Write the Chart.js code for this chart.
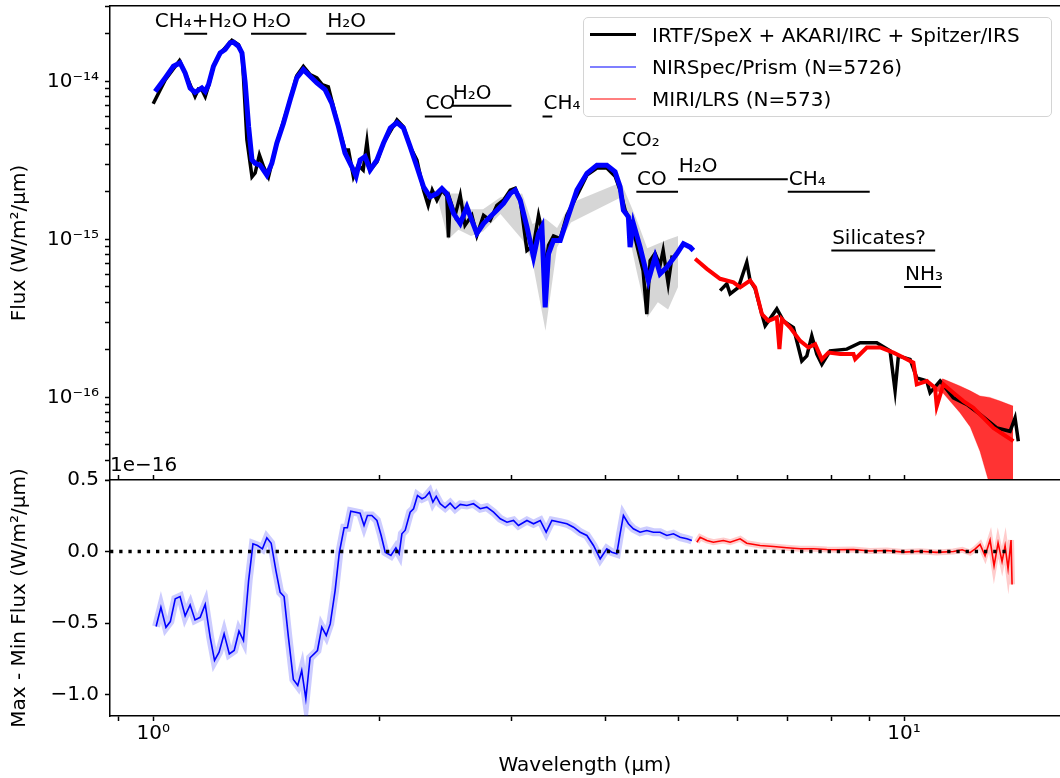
<!DOCTYPE html>
<html>
<head>
<meta charset="utf-8">
<script src="https://cdn.jsdelivr.net/npm/chart.js@4.4.1/dist/chart.umd.min.js"></script>
<style>
    html, body { margin: 0; padding: 0; background: #fff; overflow: hidden; }
    #wrap { position: relative; width: 1060px; height: 778px; }
    #fluxChart { position: absolute; left: 0; top: 0; }
    #diffChart { position: absolute; left: 0; top: 440px; }
    #legend {
        position: absolute; left: 583px; top: 17px; width: 469px; height: 100px;
        box-sizing: border-box; border: 1.5px solid #d4d4d4; border-radius: 5px;
        background: rgba(255, 255, 255, 0.8); z-index: 5;
        font-family: 'DejaVu Sans', sans-serif; font-size: 20px; color: #000;
    }
    .legend-row { position: absolute; left: 0; height: 32px; line-height: 32px; white-space: nowrap; }
    .legend-line { position: absolute; left: 6px; top: 15px; width: 46px; }
    .legend-text { position: absolute; left: 68px; top: 0; }
</style>
</head>
<body>
<div id="wrap">
    <canvas id="fluxChart" width="1060" height="480"></canvas>
    <canvas id="diffChart" width="1060" height="338"></canvas>
    <div id="legend"></div>
</div>
<script>
// axis ranges and ticks
const xMin = 0.876, xMax = 16.13;
const fluxMin = 3e-17, fluxMax = 3e-14;
const diffMin = -1.15, diffMax = 0.5;

const xMajorTicks = [1, 10];
const xMajorLabels = ['10⁰', '10¹'];
const xMinorTicks = [0.9, 2, 3, 4, 5, 6, 7, 8, 9];
const fluxMajorTicks = [1e-16, 1e-15, 1e-14];
const fluxMajorLabels = ['10⁻¹⁶', '10⁻¹⁵', '10⁻¹⁴'];
const fluxMinorMantissas = [2, 3, 4, 5, 6, 7, 8, 9];
const diffTicks = [-1.0, -0.5, 0.0, 0.5];
const diffLabels = ['−1.0', '−0.5', '0.0', '0.5'];

// IRTF/SpeX + AKARI/IRC + Spitzer/IRS (gap between AKARI and Spitzer)
const blackWave = [
    1.000, 1.038, 1.084, 1.103, 1.137, 1.149, 1.161, 1.173, 1.185, 1.203,
    1.228, 1.273, 1.299, 1.314, 1.333, 1.354, 1.367, 1.385, 1.403, 1.424,
    1.461, 1.522, 1.553, 1.585, 1.618, 1.652, 1.679, 1.711, 1.765, 1.801,
    1.820, 1.848, 1.875, 1.904, 1.926, 1.945, 1.986, 2.026, 2.112, 2.155,
    2.199, 2.245, 2.291, 2.324, 2.353, 2.387, 2.424, 2.461, 2.473, 2.486,
    2.524, 2.564, 2.602, 2.657, 2.698, 2.754, 2.811, 2.869, 2.928, 2.989,
    3.035, 3.082, 3.146, 3.210, 3.260, 3.294, 3.327, 3.361, 3.413, 3.484,
    3.556, 3.667, 3.781, 3.899, 4.019, 4.122, 4.186, 4.251, 4.343, 4.424,
    4.492, 4.543, 4.590, 4.660, 4.732, 4.777, 4.851, 4.911, 5.300, 5.689,
    5.806, 5.866, 6.017, 6.173, 6.236, 6.333, 6.465, 6.531, 6.769, 6.908,
    7.123, 7.308, 7.421, 7.535, 7.652, 7.771, 7.971, 8.390, 8.740, 9.197,
    9.579, 9.728, 9.827, 10.186, 10.397, 10.720, 10.830, 11.168, 11.631, 12.118,
    12.624, 13.287, 13.840, 14.053, 14.195
];
const blackFlux = [
    7.21e-15, 1.025e-14, 1.354e-14, 1.131e-14, 8.03e-15, 8.95e-15, 8.86e-15, 8.03e-15, 9.39e-15, 1.246e-14,
    1.50e-14, 1.822e-14, 1.711e-14, 1.478e-14, 4.26e-15, 2.49e-15, 2.63e-15, 3.42e-15, 2.88e-15, 2.49e-15,
    4.06e-15, 7.65e-15, 1.087e-14, 1.246e-14, 1.103e-14, 1.051e-14, 9.53e-15, 9.25e-15, 5.17e-15, 3.68e-15,
    3.68e-15, 2.49e-15, 2.95e-15, 2.75e-15, 4.16e-15, 2.75e-15, 3.09e-15, 4.06e-15, 5.71e-15, 5.15e-15,
    3.86e-15, 3.18e-15, 2.05e-15, 1.64e-15, 2.05e-15, 1.77e-15, 2.05e-15, 1.88e-15, 1.03e-15, 1.77e-15,
    1.42e-15, 1.90e-15, 1.23e-15, 1.42e-15, 1.06e-15, 1.42e-15, 1.32e-15, 1.64e-15, 1.77e-15, 2.05e-15,
    2.11e-15, 1.77e-15, 8.51e-16, 9.16e-16, 1.42e-15, 1.14e-15, 6.35e-16, 9.16e-16, 1.05e-15, 1.01e-15,
    1.42e-15, 1.90e-15, 2.55e-15, 2.83e-15, 2.83e-15, 2.51e-15, 2.05e-15, 1.53e-15, 1.23e-15, 8.51e-16,
    6.35e-16, 3.37e-16, 7.35e-16, 8.15e-16, 6.84e-16, 8.51e-16, 5.25e-16, 7.91e-16, null, 4.74e-16,
    5.23e-16, 4.52e-16, 4.97e-16, 7.17e-16, 5.49e-16, 4.88e-16, 3.37e-16, 2.84e-16, 3.63e-16, 3.05e-16,
    2.77e-16, 1.70e-16, 1.83e-16, 2.45e-16, 1.88e-16, 1.62e-16, 1.97e-16, 2.02e-16, 2.22e-16, 2.22e-16,
    1.97e-16, 1.10e-16, 1.83e-16, 1.74e-16, 1.33e-16, 1.27e-16, 1.07e-16, 1.27e-16, 9.94e-17, 9.03e-17,
    7.80e-17, 6.41e-17, 6.10e-17, 7.42e-17, 5.28e-17
];

// NIRSpec/Prism
const blueWave = [
    1.006, 1.038, 1.064, 1.086, 1.103, 1.120, 1.137, 1.161, 1.173, 1.185,
    1.203, 1.228, 1.247, 1.266, 1.279, 1.299, 1.313, 1.326, 1.340, 1.354,
    1.367, 1.388, 1.417, 1.439, 1.461, 1.491, 1.522, 1.553, 1.585, 1.618,
    1.652, 1.694, 1.729, 1.765, 1.801, 1.839, 1.863, 1.886, 1.915, 1.945,
    1.986, 2.026, 2.069, 2.112, 2.155, 2.199, 2.245, 2.291, 2.338, 2.387,
    2.424, 2.461, 2.512, 2.564, 2.617, 2.657, 2.698, 2.754, 2.811, 2.869,
    2.928, 2.989, 3.035, 3.082, 3.146, 3.210, 3.260, 3.294, 3.327, 3.361,
    3.413, 3.484, 3.556, 3.667, 3.781, 3.899, 4.019, 4.122, 4.186, 4.229,
    4.294, 4.316, 4.360, 4.451, 4.565, 4.660, 4.732, 4.831, 4.981, 5.083,
    5.189, 5.241
];
const blueFlux = [
    8.64e-15, 1.056e-14, 1.246e-14, 1.309e-14, 1.131e-14, 9.08e-15, 8.51e-15, 9.08e-15, 8.64e-15, 9.53e-15,
    1.246e-14, 1.515e-14, 1.591e-14, 1.754e-14, 1.770e-14, 1.669e-14, 1.515e-14, 9.77e-15, 5.17e-15, 3.18e-15,
    3.03e-15, 2.95e-15, 2.55e-15, 3.03e-15, 4.06e-15, 5.44e-15, 7.65e-15, 1.051e-14, 1.187e-14, 1.076e-14,
    9.77e-15, 8.86e-15, 7.29e-15, 5.17e-15, 3.51e-15, 2.88e-15, 2.51e-15, 3.18e-15, 3.34e-15, 2.75e-15,
    3.18e-15, 4.06e-15, 5.06e-15, 5.49e-15, 5.06e-15, 3.86e-15, 2.88e-15, 2.15e-15, 1.86e-15, 1.95e-15,
    2.10e-15, 1.95e-15, 1.46e-15, 1.26e-15, 1.60e-15, 1.32e-15, 1.09e-15, 1.26e-15, 1.39e-15, 1.53e-15,
    1.69e-15, 1.95e-15, 2.05e-15, 1.77e-15, 1.20e-15, 7.72e-16, 1.09e-15, 1.20e-15, 3.71e-16, 8.11e-16,
    9.85e-16, 9.85e-16, 1.32e-15, 2.05e-15, 2.62e-15, 2.95e-15, 2.95e-15, 2.68e-15, 2.15e-15, 1.53e-15,
    1.39e-15, 8.93e-16, 1.26e-15, 8.93e-16, 5.49e-16, 7.72e-16, 6.05e-16, 6.67e-16, 8.11e-16, 9.39e-16,
    8.93e-16, 8.51e-16
];

// MIRI/LRS
const redWave = [
    5.269, 5.462, 5.689, 5.926, 6.049, 6.236, 6.333, 6.465, 6.597, 6.769,
    6.823, 6.874, 7.051, 7.271, 7.458, 7.613, 7.771, 7.930, 8.220, 8.562,
    8.607, 8.920, 9.292, 9.679, 9.979, 10.289, 10.397, 10.720, 10.996, 11.054,
    11.280, 11.631, 11.993, 12.367, 12.752, 13.150, 13.559, 13.982
];
const redFlux = [
    7.54e-16, 6.51e-16, 5.63e-16, 5.35e-16, 4.97e-16, 5.49e-16, 4.97e-16, 3.37e-16, 3.05e-16, 3.21e-16,
    2.02e-16, 3.13e-16, 2.77e-16, 2.28e-16, 2.07e-16, 2.17e-16, 1.74e-16, 1.92e-16, 1.88e-16, 1.88e-16,
    1.75e-16, 2.07e-16, 2.07e-16, 1.92e-16, 1.79e-16, 1.66e-16, 1.21e-16, 1.27e-16, 1.15e-16, 8.81e-17,
    1.21e-16, 1.07e-16, 9.48e-17, 8.59e-17, 7.42e-17, 6.41e-17, 5.82e-17, 5.28e-17
];

// spread of the MIRI spectra at long wavelengths
const redBandWave = [11.00, 11.26, 11.87, 12.25, 12.62, 13.00, 13.42, 13.97];
const redBandHigh = [1.20e-16, 1.31e-16, 1.18e-16, 1.10e-16, 1.02e-16, 1.00e-16, 9.48e-17, 8.81e-17];
const redBandLow = [1.10e-16, 1.07e-16, 8.0e-17, 6.5e-17, 4.56e-17, 2.8e-17, 2.5e-17, 2.5e-17];

// grey spread of the reference spectrum
const grayWave = [2.40, 2.47, 2.55, 2.65, 2.75, 2.90, 3.10, 3.20, 3.33, 3.45, 3.60, 4.20, 4.40, 4.55, 4.70, 4.85, 5.00];
const grayHigh = [2.10e-15, 1.95e-15, 1.95e-15, 1.55e-15, 1.55e-15, 1.85e-15, 1.95e-15, 1.25e-15, 1.35e-15,
    1.18e-15, 1.70e-15, 2.30e-15, 1.35e-15, 8.8e-16, 9.4e-16, 1.0e-15, 1.05e-15];
const grayLow = [1.70e-15, 1.0e-15, 1.15e-15, 1.05e-15, 1.12e-15, 1.45e-15, 1.0e-15, 7.2e-16, 2.64e-16,
    8.9e-16, 1.28e-15, 1.85e-15, 6.4e-16, 3.2e-16, 4.0e-16, 3.6e-16, 5.0e-16];

// absorption features
const featLabel = ['CH₄+H₂O', 'H₂O', 'H₂O', 'CO', 'H₂O', 'CH₄', 'CO₂', 'CO', 'H₂O', 'CH₄', 'Silicates?', 'NH₃'];
const featStart = [1.10, 1.35, 1.70, 2.30, 2.50, 3.30, 4.20, 4.40, 5.00, 7.00, 8.00, 10.0];
const featEnd = [1.18, 1.60, 2.10, 2.50, 3.00, 3.40, 4.40, 5.00, 7.00, 9.00, 11.0, 11.2];
const featFlux = [2.0e-14, 2.0e-14, 2.0e-14, 6.0e-15, 7.0e-15, 6.0e-15, 3.5e-15, 2.0e-15, 2.4e-15, 2.0e-15, 8.5e-16, 5.0e-16];
const featTextX = [1.005, 1.355, 1.705, 2.305, 2.505, 3.31, 4.21, 4.41, 5.01, 7.02, 8.02, 10.03];

// max - min difference (units of 1e-16)
const diffBlueWave = [
    1.009, 1.024, 1.040, 1.054, 1.070, 1.086, 1.103, 1.120, 1.137, 1.155,
    1.173, 1.191, 1.207, 1.224, 1.243, 1.263, 1.282, 1.301, 1.319, 1.340,
    1.358, 1.377, 1.398, 1.417, 1.436, 1.457, 1.476, 1.494, 1.514, 1.537,
    1.558, 1.577, 1.597, 1.618, 1.655, 1.677, 1.700, 1.721, 1.747, 1.770,
    1.796, 1.814, 1.833, 1.886, 1.909, 1.929, 1.955, 1.986, 2.012, 2.037,
    2.073, 2.105, 2.126, 2.144, 2.166, 2.199, 2.222, 2.249, 2.280, 2.303,
    2.333, 2.358, 2.382, 2.411, 2.448, 2.486, 2.524, 2.564, 2.617, 2.670,
    2.726, 2.782, 2.840, 2.899, 2.959, 3.019, 3.065, 3.146, 3.210, 3.277,
    3.337, 3.396, 3.484, 3.556, 3.629, 3.704, 3.781, 3.858, 3.938, 4.019,
    4.081, 4.144, 4.186, 4.229, 4.294, 4.360, 4.451, 4.543, 4.636, 4.732,
    4.831, 4.930, 5.032, 5.137, 5.216
];
const diffBlueVal = [
    -0.524, -0.39, -0.53, -0.49, -0.33, -0.315, -0.45, -0.373, -0.478, -0.46,
    -0.37, -0.60, -0.762, -0.704, -0.576, -0.716, -0.692, -0.557, -0.622, -0.203,
    0.054, 0.042, 0.019, 0.096, 0.058, -0.133, -0.285, -0.315, -0.60, -0.895,
    -0.937, -0.832, -1.03, -0.743, -0.692, -0.529, -0.587, -0.506, -0.273, -0.005,
    0.166, 0.166, 0.282, 0.268, 0.182, 0.252, 0.252, 0.217, 0.112, -0.005,
    -0.028, 0.026, -0.016, 0.124, 0.149, 0.275, 0.299, 0.392, 0.369, 0.38,
    0.415, 0.345, 0.385, 0.334, 0.306, 0.338, 0.299, 0.329, 0.322, 0.334,
    0.299, 0.31, 0.275, 0.229, 0.205, 0.217, 0.182, 0.217, 0.194, 0.217,
    0.135, 0.217, 0.205, 0.194, 0.17, 0.135, 0.112, 0.042, -0.051, 0.019,
    -0.005, -0.016, 0.124, 0.252, 0.194, 0.159, 0.135, 0.147, 0.135, 0.135,
    0.112, 0.124, 0.10, 0.089, 0.077
];
const diffRedWave = [
    5.297, 5.350, 5.462, 5.572, 5.746, 5.866, 6.049, 6.173, 6.431, 6.699,
    6.979, 7.271, 7.573, 7.889, 8.137, 8.562, 9.010, 9.484, 9.980, 10.503,
    11.05, 11.631, 11.95, 12.242, 12.45, 12.624, 12.819, 13.017, 13.177, 13.340,
    13.504, 13.630, 13.755, 13.882, 13.925
];
const diffRedVal = [
    0.065, 0.10, 0.077, 0.065, 0.077, 0.065, 0.089, 0.058, 0.042, 0.035,
    0.026, 0.019, 0.019, 0.014, 0.012, 0.014, 0.004, 0.007, -0.004, 0.002,
    -0.006, 0.0, 0.012, -0.008, 0.02, 0.05, -0.03, 0.08, -0.10, 0.06,
    -0.07, 0.04, -0.12, 0.08, -0.23
];
const zeroLineWave = [0.876, 13.85];
const zeroLineVal = [0, 0];

Chart.defaults.font.family = "'DejaVu Sans', sans-serif";
Chart.defaults.font.size = 20;
Chart.defaults.color = '#000';

function pts(xs, ys) {
    return xs.map((x, i) => ({ x: x, y: ys[i] }));
}

function featureSegments() {
    const out = [];
    featStart.forEach((s, i) => {
        out.push({ x: s, y: featFlux[i] }, { x: featEnd[i], y: featFlux[i] }, { x: featEnd[i], y: null });
    });
    return out;
}

function setTicks(scale, values) {
    scale.ticks = values
        .filter(v => v >= scale.min * 0.999 && v <= scale.max * 1.001)
        .sort((a, b) => a - b)
        .map(v => ({ value: v }));
}

// fixed axis box, no extra room reserved for the end labels
function fixWidth(scale) {
    scale.width = 110;
    scale.paddingTop = 0;
    scale.paddingBottom = 0;
}

const fluxMinorTicks = [];
[1e-17, 1e-16, 1e-15, 1e-14].forEach(d => fluxMinorMantissas.forEach(m => fluxMinorTicks.push(m * d)));

const axisLine = { color: '#000', width: 1.5 };

function xAxis(position, withLabels) {
    return {
        type: 'logarithmic',
        position: position,
        min: xMin,
        max: xMax,
        afterBuildTicks: s => setTicks(s, xMajorTicks.concat(xMinorTicks)),
        grid: { drawOnChartArea: false, tickLength: 5, tickColor: '#000', tickWidth: 1.5 },
        border: axisLine,
        ticks: {
            display: withLabels,
            autoSkip: false,
            maxRotation: 0,
            padding: 1,
            callback: function (value) {
                const i = xMajorTicks.indexOf(value);
                return i >= 0 ? xMajorLabels[i] : '';
            }
        }
    };
}

// molecule names above the feature bars
const featureLabelPlugin = {
    id: 'featureLabels',
    afterDatasetsDraw(chart) {
        const { ctx, scales } = chart;
        ctx.save();
        ctx.font = "20px 'DejaVu Sans'";
        ctx.fillStyle = '#000';
        ctx.textAlign = 'left';
        ctx.textBaseline = 'alphabetic';
        featLabel.forEach((txt, i) => {
            ctx.fillText(txt, scales.x.getPixelForValue(featTextX[i]), scales.y.getPixelForValue(featFlux[i]) - 7);
        });
        ctx.restore();
    }
};

const fluxChart = new Chart(document.getElementById('fluxChart'), {
    type: 'line',
    data: {
        datasets: [
            {
                data: featureSegments(),
                borderColor: '#000', borderWidth: 2, spanGaps: false, order: 0
            },
            {
                label: 'NIRSpec/Prism (N=5726)', legendColor: 'rgba(0,0,255,0.5)', legendWidth: 2.5,
                data: pts(blueWave, blueFlux),
                borderColor: '#0000ff', borderWidth: 5, order: 1
            },
            {
                label: 'MIRI/LRS (N=573)', legendColor: 'rgba(255,0,0,0.5)', legendWidth: 2.5,
                data: pts(redWave, redFlux),
                borderColor: '#ff0000', borderWidth: 4, order: 2
            },
            {
                label: 'IRTF/SpeX + AKARI/IRC + Spitzer/IRS', legendColor: '#000', legendWidth: 3.5,
                data: pts(blackWave, blackFlux),
                borderColor: '#000', borderWidth: 3.5, spanGaps: false, order: 3
            },
            {
                data: pts(redBandWave, redBandHigh),
                borderColor: 'rgba(255,0,0,0.3)', borderWidth: 1,
                backgroundColor: 'rgba(255,0,0,0.8)', fill: '+1', order: 4
            },
            {
                data: pts(redBandWave, redBandLow),
                borderColor: 'rgba(255,0,0,0.3)', borderWidth: 1, fill: false, order: 5
            },
            {
                data: pts(grayWave, grayHigh),
                borderWidth: 0, backgroundColor: 'rgba(0,0,0,0.16)', fill: '+1', order: 6
            },
            {
                data: pts(grayWave, grayLow),
                borderWidth: 0, fill: false, order: 7
            }
        ]
    },
    options: {
        responsive: false,
        animation: false,
        events: [],
        layout: { padding: 0, autoPadding: false },
        elements: { point: { radius: 0 }, line: { tension: 0 } },
        plugins: { legend: { display: false }, tooltip: { enabled: false } },
        scales: {
            x: {
                type: 'logarithmic', min: xMin, max: xMax, display: false
            },
            xTop: {
                type: 'logarithmic', position: 'top', min: xMin, max: xMax,
                grid: { drawOnChartArea: false, drawTicks: false },
                border: axisLine,
                ticks: { display: false },
                afterFit: s => { s.height = 6; }
            },
            y: {
                type: 'logarithmic',
                min: fluxMin,
                max: fluxMax,
                afterBuildTicks: s => setTicks(s, fluxMajorTicks.concat(fluxMinorTicks)),
                afterFit: fixWidth,
                grid: { drawOnChartArea: false, tickLength: 5, tickColor: '#000', tickWidth: 1.5 },
                border: axisLine,
                ticks: {
                    autoSkip: false,
                    padding: 6,
                    callback: function (value) {
                        const i = fluxMajorTicks.indexOf(value);
                        return i >= 0 ? fluxMajorLabels[i] : '';
                    }
                },
                title: { display: true, text: 'Flux (W/m²/μm)', padding: { top: 8, bottom: 0 } }
            }
        }
    },
    plugins: [featureLabelPlugin]
});

const bottomX = xAxis('bottom', true);
bottomX.afterFit = s => { s.height = 62; };
bottomX.title = { display: true, text: 'Wavelength (μm)', padding: { top: 0, bottom: 0 } };
const topX = xAxis('top', false);
topX.afterFit = s => { s.height = 0; };

new Chart(document.getElementById('diffChart'), {
    type: 'line',
    data: {
        datasets: [
            {
                data: pts(zeroLineWave, zeroLineVal),
                borderColor: '#000', borderWidth: 3.3, borderDash: [3.3, 5.9], order: 0
            },
            {
                data: pts(diffBlueWave, diffBlueVal),
                borderColor: '#0000ff', borderWidth: 1.6, order: 1
            },
            {
                data: pts(diffRedWave, diffRedVal),
                borderColor: '#ff0000', borderWidth: 1.6, order: 2
            },
            {
                data: pts(diffBlueWave, diffBlueVal),
                borderColor: 'rgba(0,0,255,0.2)', borderWidth: 8, order: 3
            },
            {
                data: pts(diffRedWave, diffRedVal),
                borderColor: 'rgba(255,0,0,0.2)', borderWidth: 6, order: 4
            }
        ]
    },
    options: {
        responsive: false,
        animation: false,
        events: [],
        layout: { padding: 0, autoPadding: false },
        elements: { point: { radius: 0 }, line: { tension: 0 } },
        plugins: {
            legend: { display: false },
            tooltip: { enabled: false },
            title: {
                display: true, text: '1e−16', align: 'start', fullSize: false,
                font: { size: 20, weight: 'normal' }, color: '#000',
                padding: { top: 14, bottom: 2 }
            }
        },
        scales: {
            x: bottomX,
            xTop: topX,
            y: {
                type: 'linear',
                min: diffMin,
                max: diffMax,
                afterBuildTicks: s => setTicks(s, diffTicks),
                afterFit: fixWidth,
                grid: { drawOnChartArea: false, tickLength: 5, tickColor: '#000', tickWidth: 1.5 },
                border: axisLine,
                ticks: {
                    autoSkip: false,
                    padding: 6,
                    callback: function (value) {
                        const i = diffTicks.indexOf(value);
                        return i >= 0 ? diffLabels[i] : '';
                    }
                },
                title: { display: true, text: 'Max - Min Flux (W/m²/μm)', padding: { top: 8, bottom: 0 } }
            }
        }
    }
});

// legend drawn inside the top panel, built from the labelled datasets
function buildLegend(chart) {
    const box = document.getElementById('legend');
    const order = ['IRTF/SpeX + AKARI/IRC + Spitzer/IRS', 'NIRSpec/Prism (N=5726)', 'MIRI/LRS (N=573)'];
    order.forEach((name, row) => {
        const ds = chart.data.datasets.find(d => d.label === name);
        if (!ds) return;
        const item = document.createElement('div');
        item.className = 'legend-row';
        item.style.top = (1 + row * 32) + 'px';
        const line = document.createElement('div');
        line.className = 'legend-line';
        line.style.borderTop = ds.legendWidth + 'px solid ' + ds.legendColor;
        line.style.top = (16 - ds.legendWidth / 2) + 'px';
        const text = document.createElement('span');
        text.className = 'legend-text';
        text.textContent = name;
        item.appendChild(line);
        item.appendChild(text);
        box.appendChild(item);
    });
}
buildLegend(fluxChart);
</script>
</body>
</html>
